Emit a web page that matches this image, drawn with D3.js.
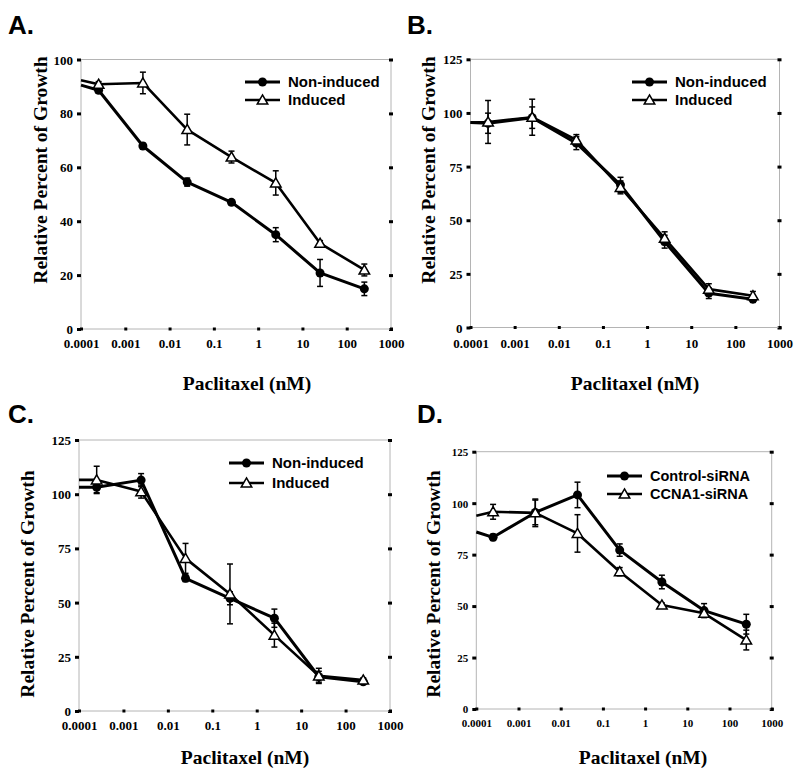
<!DOCTYPE html>
<html><head><meta charset="utf-8">
<script src="https://cdn.jsdelivr.net/npm/d3@7"></script>
<style>
body{margin:0;background:#fff;}
svg{display:block;}
</style></head>
<body><svg id="c" width="800" height="776"></svg>
<script>
// ---- data ----
const xValues = [0.00025, 0.0025, 0.025, 0.25, 2.5, 25, 250];
const xStart = 0.0001; // lines enter the plot from the left edge
const xTickValues = [0.0001, 0.001, 0.01, 0.1, 1, 10, 100, 1000];
const xTickLabels = ["0.0001", "0.001", "0.01", "0.1", "1", "10", "100", "1000"];

const aYTicks = [0, 20, 40, 60, 80, 100];
const aNonInduced = [88.6, 67.9, 54.5, 47.0, 35.0, 20.8, 14.9];
const aNonInducedErr = [1.0, 1.0, 1.5, 0.8, 2.6, 5.0, 2.5];
const aNonInducedStart = 90.5;
const aInduced = [90.8, 91.3, 74.0, 63.8, 54.2, 31.8, 21.9];
const aInducedErr = [1.0, 4.0, 5.7, 2.2, 4.5, 1.0, 2.2];
const aInducedStart = 92.3;

const bYTicks = [0, 25, 50, 75, 100, 125];
const bNonInduced = [95.2, 97.8, 85.9, 66.5, 40.0, 16.0, 13.2];
const bNonInducedErr = [4.7, 5.0, 3.0, 3.5, 3.0, 2.5, 1.5];
const bNonInducedStart = 95.5;
const bInduced = [95.8, 98.0, 87.4, 65.3, 41.6, 17.9, 14.8];
const bInducedErr = [10.0, 8.4, 2.5, 3.0, 3.0, 2.5, 2.0];
const bInducedStart = 95.5;

const cYTicks = [0, 25, 50, 75, 100, 125];
const cNonInduced = [103.2, 106.5, 61.2, 52.0, 42.8, 15.8, 13.5];
const cNonInducedErr = [2.5, 3.0, 1.5, 3.0, 4.2, 2.5, 1.0];
const cNonInducedStart = 103.2;
const cInduced = [106.6, 101.2, 70.4, 54.0, 35.0, 16.2, 14.3];
const cInducedErr = [6.3, 3.0, 6.9, 13.8, 5.5, 3.5, 1.0];
const cInducedStart = 106.6;

const dYTicks = [0, 25, 50, 75, 100, 125];
const dControl = [83.4, 95.5, 104.0, 77.2, 61.7, 47.8, 41.2];
const dControlErr = [1.5, 6.0, 6.2, 3.0, 3.3, 3.4, 4.8];
const dControlStart = 86.0;
const dCCNA1 = [95.8, 95.3, 85.3, 66.7, 50.5, 46.5, 33.5];
const dCCNA1Err = [3.6, 6.7, 9.1, 2.0, 1.0, 1.0, 4.8];
const dCCNA1Start = 93.9;

const legendAC = ["Non-induced", "Induced"];
const legendD = ["Control-siRNA", "CCNA1-siRNA"];
const xTitle = "Paclitaxel (nM)";
const yTitle = "Relative Percent of Growth";

// ---- panels (layout) ----
const panels = [
  {letter:"A.", lx:8, ly:34, L:81, R:391, T:59.5, B:329, ymax:100, yTicks:aYTicks,
   series:[[aNonInduced,aNonInducedErr,aNonInducedStart],[aInduced,aInducedErr,aInducedStart]],
   legend:legendAC, legX:245, legY:82, legDy:18, legFont:15,
   tickFont:13, xLabOff:14.5, xTitleX:247, xTitleY:383, yTitleX:40, yTitleY:170},
  {letter:"B.", lx:407, ly:34, L:470.5, R:779.5, T:59.3, B:327.5, ymax:125, yTicks:bYTicks,
   series:[[bNonInduced,bNonInducedErr,bNonInducedStart],[bInduced,bInducedErr,bInducedStart]],
   legend:legendAC, legX:632, legY:82, legDy:18, legFont:15,
   tickFont:13, xLabOff:15.5, xTitleX:635, xTitleY:383, yTitleX:428, yTitleY:170},
  {letter:"C.", lx:8, ly:423, L:79, R:390, T:440, B:711, ymax:125, yTicks:cYTicks,
   series:[[cNonInduced,cNonInducedErr,cNonInducedStart],[cInduced,cInducedErr,cInducedStart]],
   legend:legendAC, legX:229, legY:463, legDy:20, legFont:15,
   tickFont:13, xLabOff:14, xTitleX:245, xTitleY:757, yTitleX:27, yTitleY:584},
  {letter:"D.", lx:417, ly:423, L:476.3, R:771.7, T:451.7, B:709, ymax:125, yTicks:dYTicks,
   series:[[dControl,dControlErr,dControlStart],[dCCNA1,dCCNA1Err,dCCNA1Start]],
   legend:legendD, legX:607, legY:476, legDy:18, legFont:14.5,
   tickFont:11, xLabOff:13.7, xTitleX:643, xTitleY:757, yTitleX:433, yTitleY:584}
];

const svg = d3.select("#c");
const serif = "'Liberation Serif','Times New Roman',serif";
const sans = "'Liberation Sans',Arial,sans-serif";
const frameColor = "#b4b4b4";

panels.forEach(p => {
  const g = svg.append("g");
  const x = d3.scaleLog().domain([1e-4, 1e3]).range([p.L, p.R]);
  const y = d3.scaleLinear().domain([0, p.ymax]).range([p.B, p.T]);

  // frame (top & right)
  g.append("line").attr("x1",p.L).attr("x2",p.R).attr("y1",p.T).attr("y2",p.T)
    .attr("stroke",frameColor).attr("stroke-width",1);

  // axes
  const styleAxis = (sel, vertical) => {
    sel.select(".domain").attr("stroke",frameColor).attr("stroke-width",1);
    sel.selectAll(".tick line").attr("stroke","#000").attr("stroke-width",3);
    if (vertical) sel.selectAll(".tick line").attr("x1",-2).attr("x2",2);
    else sel.selectAll(".tick line").attr("y1",-1.5).attr("y2",1.5);
  };
  const yAx = g.append("g").attr("transform",`translate(${p.L},0)`)
    .call(d3.axisLeft(y).tickValues(p.yTicks).tickSize(2).tickPadding(0).tickFormat(d3.format("d")));
  styleAxis(yAx, true);
  yAx.select(".domain").attr("d", `M0,${p.T}V${p.B}`);
  yAx.selectAll(".tick text").attr("x",-8).attr("dy","0.35em")
    .attr("font-family",serif).attr("font-weight","bold").attr("font-size",p.tickFont).attr("fill","#000");
  yAx.selectAll(".tick line").attr("x1",-4).attr("x2",0);

  const yAxR = g.append("g").attr("transform",`translate(${p.R},0)`)
    .call(d3.axisRight(y).tickValues(p.yTicks).tickSize(2).tickFormat(""));
  styleAxis(yAxR, true);
  yAxR.select(".domain").attr("d", `M0,${p.T}V${p.B}`);

  const xAx = g.append("g").attr("transform",`translate(0,${p.B})`)
    .call(d3.axisBottom(x).tickValues(xTickValues).tickSize(2)
      .tickFormat((d,i) => xTickLabels[i]));
  styleAxis(xAx, false);
  xAx.select(".domain").attr("d", `M${p.L},0H${p.R}`);
  xAx.selectAll(".tick text").attr("y",p.xLabOff).attr("dy","0.35em")
    .attr("font-family",serif).attr("font-weight","bold").attr("font-size",p.tickFont).attr("fill","#000");

  // titles
  g.append("text").attr("x",p.xTitleX).attr("y",p.xTitleY).attr("dy","0.35em")
    .attr("text-anchor","middle").attr("font-family",serif).attr("font-weight","bold")
    .attr("font-size",19.5).text(xTitle);
  g.append("text").attr("transform",`translate(${p.yTitleX},${p.yTitleY}) rotate(-90)`)
    .attr("dy","0.35em").attr("text-anchor","middle").attr("font-family",serif)
    .attr("font-weight","bold").attr("font-size",19.5).text(yTitle);

  // panel letter
  g.append("text").attr("x",p.lx).attr("y",p.ly).attr("font-family",sans)
    .attr("font-weight","bold").attr("font-size",26).text(p.letter);

  const line = d3.line().x(d => x(d[0])).y(d => y(d[1]));
  const tri = d3.symbol().type(d3.symbolTriangle).size(48);

  p.series.forEach((s, si) => {
    const [vals, errs, start] = s;
    const pts = [[xStart, start]].concat(xValues.map((xv,i) => [xv, vals[i]]));
    g.append("path").attr("d", line(pts)).attr("fill","none")
      .attr("stroke","#000").attr("stroke-width", si === 0 ? 3 : 2.6).attr("stroke-linejoin","round");
  });
  p.series.forEach((s, si) => {
    const [vals, errs] = s;
    xValues.forEach((xv,i) => {
      const cx = x(xv), y1 = y(vals[i]+errs[i]), y2 = y(vals[i]-errs[i]);
      g.append("line").attr("x1",cx).attr("x2",cx).attr("y1",y1).attr("y2",y2)
        .attr("stroke","#000").attr("stroke-width",1.5);
      [y1,y2].forEach(yy => g.append("line").attr("x1",cx-3).attr("x2",cx+3)
        .attr("y1",yy).attr("y2",yy).attr("stroke","#000").attr("stroke-width",1.5));
    });
  });
  p.series.forEach((s, si) => {
    const [vals] = s;
    xValues.forEach((xv,i) => {
      if (si === 0) {
        g.append("circle").attr("cx",x(xv)).attr("cy",y(vals[i])).attr("r",4.5).attr("fill","#000");
      } else {
        g.append("path").attr("d",tri).attr("transform",`translate(${x(xv)},${y(vals[i])+1})`)
          .attr("fill","#fff").attr("stroke","#000").attr("stroke-width",1.5);
      }
    });
  });

  // legend
  p.legend.forEach((name, i) => {
    const ly = p.legY + i*p.legDy;
    g.append("line").attr("x1",p.legX).attr("x2",p.legX+35).attr("y1",ly).attr("y2",ly)
      .attr("stroke","#000").attr("stroke-width", i===0 ? 3 : 2.6);
    if (i === 0) g.append("circle").attr("cx",p.legX+17.5).attr("cy",ly).attr("r",4.5).attr("fill","#000");
    else g.append("path").attr("d",tri).attr("transform",`translate(${p.legX+17.5},${ly+1})`)
      .attr("fill","#fff").attr("stroke","#000").attr("stroke-width",1.5);
    g.append("text").attr("x",p.legX+43).attr("y",ly).attr("dy","0.36em")
      .attr("font-family",sans).attr("font-weight","bold").attr("font-size",p.legFont).text(name);
  });
});
</script></body></html>
